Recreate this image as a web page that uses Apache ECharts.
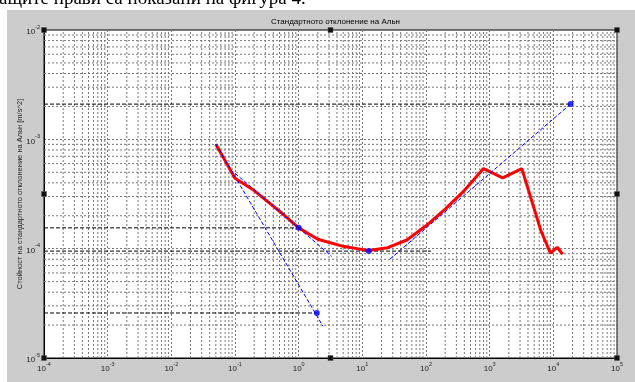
<!DOCTYPE html>
<html><head><meta charset="utf-8">
<script src="https://cdn.jsdelivr.net/npm/echarts@6/dist/echarts.min.js"></script>
<style>
html,body{margin:0;padding:0;background:#fff;}
#bg{position:absolute;left:7px;top:10px;width:628px;height:372px;background:#cccccc;}
#c{position:absolute;left:0;top:0;width:635px;height:382px;}
</style>
</head><body><div id="bg"></div><div id="c"></div>
<script>
// ---- data ----
const titleText = 'Стандартното отклонение на Альн';
const yAxisName = 'Стойност на стандартното отклонение на Альн [m/s^2]';
const pageText = 'ащите прави са показани на фигура 4.';

// Allan deviation curve (red)
const tau = [0.05, 0.1, 0.2, 0.5, 1, 2, 5, 12.6, 25, 50, 100, 200, 400, 800, 1600, 3200, 6400, 9000, 11500, 14000];
const sigma = [9.0e-4, 4.4e-4, 3.4e-4, 2.2e-4, 1.55e-4, 1.22e-4, 1.05e-4, 9.6e-5, 1.02e-4, 1.2e-4, 1.62e-4, 2.3e-4, 3.4e-4, 5.4e-4, 4.45e-4, 5.4e-4, 1.45e-4, 9.1e-5, 1.03e-4, 8.9e-5];

// fitted slope lines (blue dashed)
const quantLineTau = [0.05, 2.4];
const quantLineSigma = [9.06e-4, 1.96e-5];
const arwLineTau = [0.1, 3.3];
const arwLineSigma = [4.9e-4, 8.5e-5];
const rrwLineTau = [27, 2.1e4];
const rrwLineSigma = [8.0e-5, 2.23e-3];

// highlighted points (blue dots) and black dashed levels
const pointTau = [1, 12.6, 1.93, 1.87e4];
const pointSigma = [1.55e-4, 9.5e-5, 2.58e-5, 2.1e-3];
const levelStartTau = 1e-4;
const levelEndTau = [1, 120, 1.93, 1.87e4];

// axes
const xMin = 1e-4, xMax = 1e5;
const yMin = 1e-5, yMax = 1e-2;

// ---- layout ----
const G = {left: 44, top: 30, width: 573, height: 328};

function minorValues(lo, hi) {
  const out = [];
  for (let e = Math.round(Math.log10(lo)); e < Math.round(Math.log10(hi)); e++) {
    for (let m = 2; m <= 9; m++) out.push(m * Math.pow(10, e));
  }
  return out;
}
const xMinor = minorValues(xMin, xMax);
const yMinor = minorValues(yMin, yMax);

function expLabel(v) {
  const e = Math.round(Math.log10(v));
  return '{b|10}{s|' + e + '}';
}
const richLab = {
  b: {fontSize: 8, fontFamily: 'Liberation Sans', color: '#222', lineHeight: 12, verticalAlign: 'bottom'},
  s: {fontSize: 5.5, fontFamily: 'Liberation Sans', color: '#222', lineHeight: 6, verticalAlign: 'top'}
};
const gridLineStyle = {color: '#777', type: [2, 2], width: 1};

const series = [];
// minor grid lines (MATLAB-style log grid)
xMinor.forEach(v => series.push({
  type: 'line', z: 1, symbol: 'none', silent: true, lineStyle: gridLineStyle,
  data: [[v, yMin], [v, yMax]]
}));
yMinor.forEach(v => series.push({
  type: 'line', z: 1, symbol: 'none', silent: true, lineStyle: gridLineStyle,
  data: [[xMin, v], [xMax, v]]
}));
// black dashed levels
pointSigma.forEach((s, i) => {
  series.push({
    type: 'line', z: 3, symbol: 'none', silent: true,
    lineStyle: {color: '#000', width: 1, type: [4, 2]},
    data: [[levelStartTau, s], [levelEndTau[i], s]]
  });
});
// red curve
series.push({
  type: 'line', z: 4, symbol: 'none', silent: true,
  lineStyle: {color: '#ff0000', width: 3},
  data: tau.map((t, i) => [t, sigma[i]])
});
// blue slope lines
[[quantLineTau, quantLineSigma], [arwLineTau, arwLineSigma], [rrwLineTau, rrwLineSigma]].forEach(([tx, sy]) => {
  series.push({
    type: 'line', z: 5, symbol: 'none', silent: true,
    lineStyle: {color: '#0000ff', width: 1, type: [4, 2]},
    data: tx.map((t, i) => [t, sy[i]])
  });
});
// blue points
series.push({
  type: 'scatter', z: 6, symbol: 'circle', symbolSize: 6, silent: true,
  itemStyle: {color: '#0000ff'},
  data: pointTau.map((t, i) => [t, pointSigma[i]])
});

// selection handles
const handles = [];
[0, 0.5, 1].forEach(fx => [0, 0.5, 1].forEach(fy => {
  if (fx === 0.5 && fy === 0.5) return;
  handles.push({
    type: 'rect', z: 100,
    shape: {x: G.left + fx * G.width - 2.5, y: G.top + fy * G.height - 2.5, width: 5, height: 5},
    style: {fill: '#111', stroke: '#555', lineWidth: 0.5}
  });
}));

const chart = echarts.init(document.getElementById('c'), null, {renderer: 'canvas'});
chart.setOption({
  animation: false,
  backgroundColor: 'transparent',
  title: {
    text: titleText, left: G.left + G.width / 2, top: 13, textAlign: 'center',
    textStyle: {fontSize: 8, fontWeight: 'normal', color: '#000', fontFamily: 'Liberation Sans'}
  },
  grid: {left: G.left, top: G.top, width: G.width, height: G.height, show: true,
    backgroundColor: '#fff', borderColor: '#000', borderWidth: 1},
  xAxis: {
    type: 'log', logBase: 10, min: xMin, max: xMax, interval: 1,
    axisLine: {show: true, lineStyle: {color: '#000'}},
    axisTick: {show: false},
    splitLine: {show: true, lineStyle: gridLineStyle},
    axisLabel: {formatter: expLabel, rich: richLab, margin: 3}
  },
  yAxis: {
    type: 'log', logBase: 10, min: yMin, max: yMax, interval: 1,
    name: yAxisName, nameLocation: 'middle', nameGap: 20, nameMoveOverlap: false,
    nameTextStyle: {fontSize: 7.5, color: '#222', fontFamily: 'Liberation Sans'},
    axisLine: {show: true, lineStyle: {color: '#000'}},
    axisTick: {show: false},
    splitLine: {show: true, lineStyle: gridLineStyle},
    axisLabel: {formatter: expLabel, rich: richLab, margin: 4}
  },
  graphic: handles.concat([{
    type: 'text', left: -1, top: -10, z: 100,
    style: {text: pageText, fontSize: 19, fontFamily: 'Liberation Serif', fill: '#000'}
  }]),
  series: series
});
</script>
</body></html>
